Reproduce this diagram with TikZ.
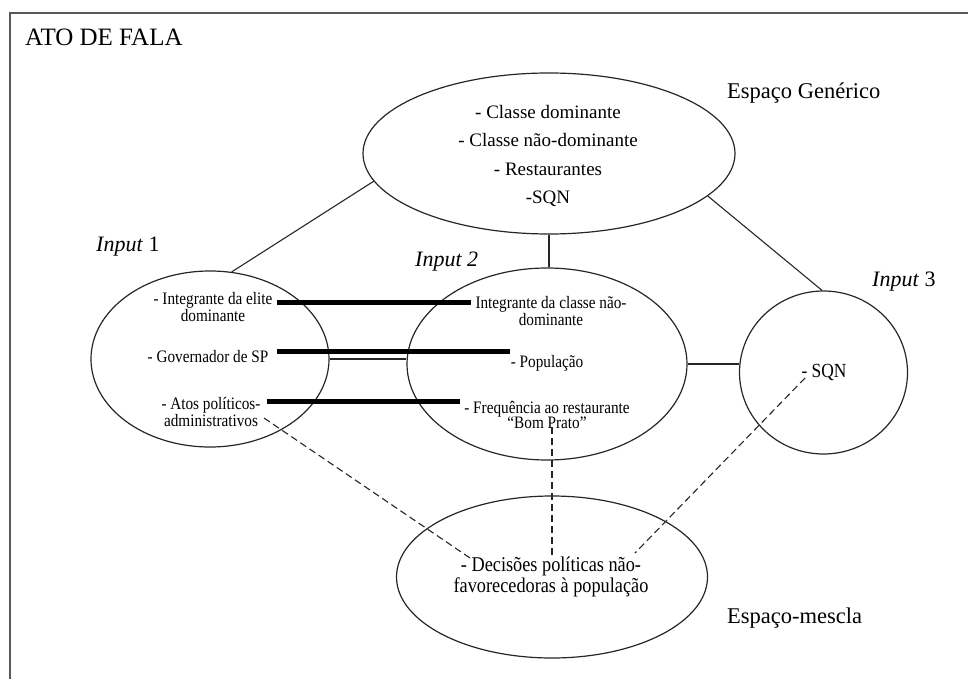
\documentclass[tikz,border=0pt]{standalone}
\usepackage{fontspec}
\setmainfont{Liberation Serif}
\newfontfamily\condfont[FakeStretch=0.87]{Liberation Serif}
\usetikzlibrary{shapes.geometric}
\tikzset{
  ell/.style={ellipse, draw=black!85, line width=1.2pt, inner sep=0pt},
  link/.style={draw=black!85, line width=1.1pt},
  bar/.style={draw=black, line width=5pt},
  dashlink/.style={draw=black!85, line width=1.1pt, dash pattern=on 7pt off 4pt},
  title/.style={font=\fontsize{25}{30}\selectfont, anchor=west, inner sep=0pt},
  space/.style={font=\fontsize{22.5}{27}\selectfont, anchor=west, inner sep=0pt},
  inlabel/.style={font=\fontsize{22}{26}\selectfont, anchor=west, inner sep=0pt},
  gentext/.style={font=\fontsize{19}{28.5}\selectfont, align=center, inner sep=0pt},
  smalltext/.style={font=\condfont\fontsize{17.5}{14}\selectfont, align=center, inner sep=0pt},
  mixtext/.style={font=\condfont\fontsize{21}{17}\selectfont, align=center, inner sep=0pt}
}
\begin{document}
\begin{tikzpicture}[x=1pt,y=-1pt]
\useasboundingbox (0,0) rectangle (968,679);
% frame (top and left edges visible)
\draw[black!65, line width=1.5pt] (10,679) -- (10,13) -- (968,13);

\node[title] (ato) at (25,37) {ATO DE FALA};

% ellipses
\node[ell, minimum width=372pt, minimum height=161pt] (gen) at (549,153.5) {};
\node[ell, minimum width=238pt, minimum height=176pt] (in1) at (210,359) {};
\node[ell, minimum width=280pt, minimum height=192pt] (in2) at (547,364) {};
\node[ell, minimum width=168pt, minimum height=163pt] (in3) at (823.5,372.5) {};
\node[ell, minimum width=311pt, minimum height=162pt] (mix) at (552,577) {};

% labels
\node[space] (lgen) at (727,93) {Espaço Genérico};
\node[space] (lmix) at (727,618) {Espaço-mescla};
\node[inlabel] (lin1) at (96,247) {\textit{Input} 1};
\node[inlabel] (lin2) at (415,262) {\textit{Input 2}};
\node[inlabel] (lin3) at (872,282) {\textit{Input} 3};

% texts
\node[gentext] (tgen) at (548,156) {- Classe dominante\\- Classe não-dominante\\- Restaurantes\\-SQN};
\node[smalltext] (t11) at (213,307) {- Integrante da elite\\dominante};
\node[smalltext] (t12) at (208,357) {- Governador de SP};
\node[smalltext] (t13) at (211,412) {- Atos políticos-\\administrativos};
\node[smalltext, font=\condfont\fontsize{17.5}{16.5}\selectfont] (t21) at (551,311) {Integrante da classe não-\\dominante};
\node[smalltext] (t22) at (547,363) {- População};
\node[smalltext, font=\condfont\fontsize{17.5}{15.5}\selectfont] (t23) at (547,415) {- Frequência ao restaurante\\“Bom Prato”};
\node[smalltext, font=\condfont\fontsize{20}{20}\selectfont] (t31) at (824,372) {- SQN};
\node[mixtext] (tmix) at (551,577) {- Decisões políticas não-\\favorecedoras à população};

% solid connectors between spaces
\draw[link] (gen.189) -- (in1.76);
\draw[link] (gen.south) -- (gen.south |- in2.north);
\draw[link] (gen.345.5) -- (in3.91);
\draw[link] (in1.east) -- (in1.east -| in2.west);
\draw[link] (in2.east) -- (in2.east -| in3.west);

% thick correspondence bars
\coordinate (b1l) at (277,302); \coordinate (b1r) at (471,302);
\coordinate (b2l) at (277,351); \coordinate (b2r) at (510,351);
\coordinate (b3l) at (267,401); \coordinate (b3r) at (460,401);
\draw[bar] (b1l) -- (b1r);
\draw[bar] (b2l) -- (b2r);
\draw[bar] (b3l) -- (b3r);

% dashed projections to blend
\coordinate (d1a) at (264,418); \coordinate (d1b) at (470,558);
\coordinate (d2a) at (552,427); \coordinate (d2b) at (552,555);
\coordinate (d3a) at (805,378); \coordinate (d3b) at (635,553);
\draw[dashlink] (d1a) -- (d1b);
\draw[dashlink] (d2a) -- (d2b);
\draw[dashlink] (d3a) -- (d3b);
\end{tikzpicture}
\end{document}
